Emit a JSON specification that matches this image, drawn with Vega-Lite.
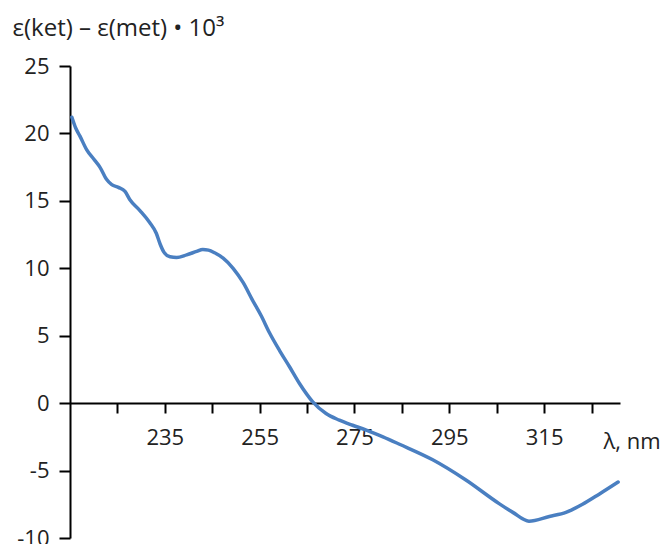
{
  "$schema": "https://vega.github.io/schema/vega-lite/v6.json",
  "autosize": {"type": "none"},
  "width": 550,
  "height": 472,
  "padding": {"left": 70, "top": 66, "right": 45, "bottom": 6},
  "background": "white",
  "config": {
    "view": {"stroke": null},
    "font": "Open Sans",
    "axis": {"grid": false, "domainColor": "black", "tickColor": "black", "domainWidth": 2, "tickWidth": 2, "labelColor": "#222", "titleColor": "#222", "labelFont": "Open Sans", "titleFont": "Open Sans", "labelFontSize": 22, "titleFontSize": 22, "titleFontWeight": "normal"}
  },
  "data": {
    "values": [
      {"nm": 215.4, "v": 21.2},
      {"nm": 216.2, "v": 20.4},
      {"nm": 217.1, "v": 19.8},
      {"nm": 218.5, "v": 18.8},
      {"nm": 220.0, "v": 18.1},
      {"nm": 221.3, "v": 17.5},
      {"nm": 222.7, "v": 16.6},
      {"nm": 223.8, "v": 16.2},
      {"nm": 225.2, "v": 16.0},
      {"nm": 226.6, "v": 15.7},
      {"nm": 227.6, "v": 15.1},
      {"nm": 229.7, "v": 14.3},
      {"nm": 231.8, "v": 13.4},
      {"nm": 233.2, "v": 12.6},
      {"nm": 234.0, "v": 11.8},
      {"nm": 234.8, "v": 11.2},
      {"nm": 236.1, "v": 10.85},
      {"nm": 237.5, "v": 10.8},
      {"nm": 239.6, "v": 11.0},
      {"nm": 241.7, "v": 11.25},
      {"nm": 243.0, "v": 11.4},
      {"nm": 244.2, "v": 11.35},
      {"nm": 245.5, "v": 11.15},
      {"nm": 247.3, "v": 10.75},
      {"nm": 249.4, "v": 10.0},
      {"nm": 251.5, "v": 8.95},
      {"nm": 253.4, "v": 7.7},
      {"nm": 255.3, "v": 6.5},
      {"nm": 257.1, "v": 5.2},
      {"nm": 259.2, "v": 3.9},
      {"nm": 261.3, "v": 2.7},
      {"nm": 263.4, "v": 1.46},
      {"nm": 266.2, "v": 0.1},
      {"nm": 269.0, "v": -0.77},
      {"nm": 271.8, "v": -1.26},
      {"nm": 274.6, "v": -1.64},
      {"nm": 277.5, "v": -2.0},
      {"nm": 281.0, "v": -2.5},
      {"nm": 284.5, "v": -3.05},
      {"nm": 291.5, "v": -4.2},
      {"nm": 298.5, "v": -5.7},
      {"nm": 305.5, "v": -7.45},
      {"nm": 308.4, "v": -8.1},
      {"nm": 311.8, "v": -8.75},
      {"nm": 316.1, "v": -8.4},
      {"nm": 319.6, "v": -8.1},
      {"nm": 323.1, "v": -7.5},
      {"nm": 326.6, "v": -6.75},
      {"nm": 330.6, "v": -5.85}
    ]
  },
  "mark": {"type": "line", "color": "#4a7fc1", "strokeWidth": 3.5, "interpolate": "monotone", "strokeJoin": "round", "strokeCap": "round"},
  "encoding": {
    "x": {
      "field": "nm", "type": "quantitative",
      "scale": {"domain": [215, 331], "nice": false, "zero": false},
      "axis": {
        "values": [225, 235, 245, 255, 265, 275, 285, 295, 305, 315, 325],
        "labelExpr": "datum.value % 20 == 15 ? datum.label : ''",
        "offset": -135,
        "tickSize": 10,
        "labelPadding": 14,
        "title": "λ, nm",
        "titleFontSize": 22,
        "titleAlign": "left",
        "titleBaseline": "alphabetic",
        "titleX": 533,
        "titleY": 45,
        "titleAnchor": null
      }
    },
    "y": {
      "field": "v", "type": "quantitative",
      "scale": {"domain": [-10, 25], "nice": false, "zero": false},
      "axis": {
        "values": [-10, -5, 0, 5, 10, 15, 20, 25],
        "labelExpr": "replace(datum.label, '−', '-')",
        "tickSize": 11,
        "labelPadding": 10,
        "title": "ε(ket) – ε(met) • 10³",
        "titleAngle": 0,
        "titleAlign": "left",
        "titleBaseline": "alphabetic",
        "titleX": -58,
        "titleY": -31,
        "titleFontSize": 24
      }
    }
  }
}
